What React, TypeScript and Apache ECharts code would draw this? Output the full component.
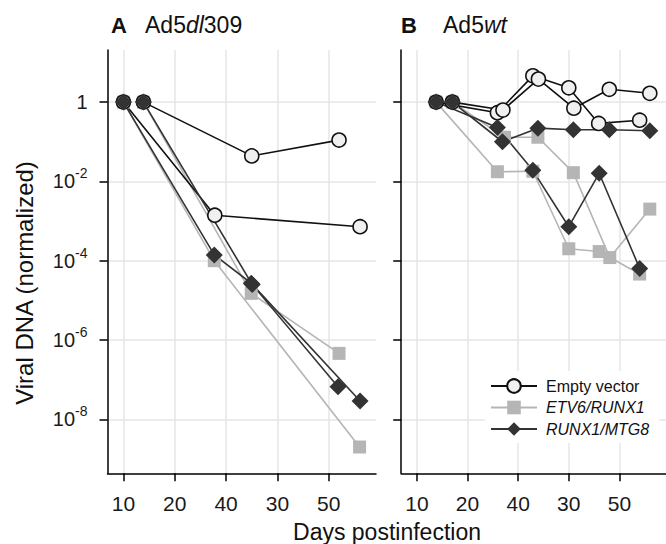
import React, { useEffect, useRef } from "react";
import * as echarts from "echarts";

const FONT = "'Liberation Sans', Arial, Helvetica, sans-serif";

// x positions (linear axis) and the tick labels exactly as printed in the figure
const X_TICKS = [10, 20, 30, 40, 50];
const X_TICK_LABELS = ["10", "20", "40", "30", "50"];
const Y_TICKS = [1, 1e-2, 1e-4, 1e-6, 1e-8];

const SERIES_NAMES = ["Empty vector", "ETV6/RUNX1", "RUNX1/MTG8"];

// Panel A: Ad5dl309
const A_EMPTY_1 = [[10, 1], [27.8, 1.4e-3], [56.1, 7.2e-4]];
const A_EMPTY_2 = [[13.9, 1], [35.0, 0.044], [52.0, 0.11]];
const A_ETV_1 = [[10, 1], [27.7, 1e-4], [56.0, 2e-9]];
const A_ETV_2 = [[13.9, 1], [34.9, 1.5e-5], [52.0, 4.6e-7]];
const A_RUNX_1 = [[10, 1], [27.7, 1.4e-4], [34.9, 2.7e-5], [56.1, 2.9e-8]];
const A_RUNX_2 = [[13.9, 1], [35.1, 2.5e-5], [51.8, 6.6e-8]];

// Panel B: Ad5wt
const B_EMPTY_1 = [[13.8, 1], [25.9, 0.54], [32.9, 4.6], [40.0, 2.3], [45.9, 0.29], [54.0, 0.35]];
const B_EMPTY_2 = [[17.0, 1], [27.0, 0.63], [34.0, 3.8], [41.0, 0.7], [48.0, 2.1], [56.0, 1.67]];
const B_ETV_1 = [[13.8, 1], [25.9, 0.0175], [32.9, 0.018], [40.0, 2e-4], [46.0, 1.7e-4], [54.0, 4.6e-5]];
const B_ETV_2 = [[17.0, 1], [27.3, 0.13], [33.9, 0.13], [40.9, 0.0166], [48.1, 1.2e-4], [56.0, 2e-3]];
const B_RUNX_1 = [[13.8, 1], [25.9, 0.23], [32.9, 0.019], [40.0, 7.2e-4], [46.0, 0.016], [54.0, 6.4e-5]];
const B_RUNX_2 = [[17.0, 1], [26.9, 0.1], [33.9, 0.22], [40.9, 0.2], [48.0, 0.2], [56.0, 0.19]];

const STYLE: Record<string, any> = {
  "Empty vector": {
    symbol: "circle",
    symbolSize: 14,
    lineStyle: { color: "#111", width: 1.6 },
    itemStyle: { color: "#f0f0f0", borderColor: "#111", borderWidth: 1.6 },
  },
  "ETV6/RUNX1": {
    symbol: "rect",
    symbolSize: 13,
    lineStyle: { color: "#b5b5b5", width: 1.6 },
    itemStyle: { color: "#b5b5b5" },
  },
  "RUNX1/MTG8": {
    symbol: "diamond",
    symbolSize: 17,
    lineStyle: { color: "#333", width: 1.6 },
    itemStyle: { color: "#333" },
  },
};

const PANELS = [
  {
    series: [
      ["ETV6/RUNX1", A_ETV_1],
      ["ETV6/RUNX1", A_ETV_2],
      ["Empty vector", A_EMPTY_1],
      ["Empty vector", A_EMPTY_2],
      ["RUNX1/MTG8", A_RUNX_1],
      ["RUNX1/MTG8", A_RUNX_2],
    ],
  },
  {
    series: [
      ["ETV6/RUNX1", B_ETV_1],
      ["ETV6/RUNX1", B_ETV_2],
      ["Empty vector", B_EMPTY_1],
      ["Empty vector", B_EMPTY_2],
      ["RUNX1/MTG8", B_RUNX_1],
      ["RUNX1/MTG8", B_RUNX_2],
    ],
  },
];

const X_MIN = 6.9;
const X_MAX = 59.2;
const Y_MIN = Math.pow(10, -9.362);
const Y_MAX = Math.pow(10, 1.314);

function yLabel(v: number) {
  const e = Math.round(Math.log10(v));
  if (e === 0) return "{b|1}";
  return "{b|10}{s|" + e + "}";
}

export default function App() {
  const ref = useRef<HTMLDivElement>(null);
  useEffect(() => {
    if (!ref.current) return;
    const chart = echarts.init(ref.current, undefined, { renderer: "svg" });
    const grids = [
      { left: 107.5, top: 50, width: 268.5, height: 423.3 },
      { left: 401.2, top: 50, width: 268.5, height: 423.3 },
    ];
    const xAxis = grids.map((_, i) => ({
      type: "value",
      gridIndex: i,
      min: X_MIN,
      max: X_MAX,
      axisLine: { show: true, lineStyle: { color: "#000", width: 1.5 } },
      axisTick: { show: true, customValues: X_TICKS, length: 8, lineStyle: { color: "#000", width: 1.5 } },
      axisLabel: {
        customValues: X_TICKS,
        formatter: (v: number) => X_TICK_LABELS[X_TICKS.indexOf(v)],
        fontSize: 21,
        color: "#1a1a1a",
        fontFamily: FONT,
        margin: 20,
      },
      splitLine: { show: true, lineStyle: { color: "#e6e6e6", width: 1.5 } },
    }));
    const yAxis = grids.map((_, i) => ({
      type: "log",
      logBase: 10,
      gridIndex: i,
      min: Y_MIN,
      max: Y_MAX,
      axisLine: { show: true, lineStyle: { color: "#000", width: 1.5 } },
      axisTick: { show: true, customValues: Y_TICKS, length: 8, lineStyle: { color: "#000", width: 1.5 } },
      axisLabel: {
        show: i === 0,
        customValues: Y_TICKS,
        formatter: yLabel,
        margin: 20,
        color: "#1a1a1a",
        fontFamily: FONT,
        rich: {
          b: { fontSize: 20, lineHeight: 30, fontFamily: FONT, color: "#1a1a1a" },
          s: { fontSize: 14, lineHeight: 14, verticalAlign: "top", fontFamily: FONT, color: "#1a1a1a" },
        },
      },
      splitLine: { show: true, lineStyle: { color: "#e6e6e6", width: 1.5 } },
    }));
    const series: any[] = [];
    PANELS.forEach((p, i) => {
      p.series.forEach(([name, data]: any) => {
        series.push({
          type: "line",
          name,
          xAxisIndex: i,
          yAxisIndex: i,
          data,
          silent: true,
          ...STYLE[name],
        });
      });
    });
    const titleStyle = { fill: "#111", fontFamily: FONT, verticalAlign: "middle" };
    chart.setOption({
      animation: false,
      backgroundColor: "#fff",
      grid: grids,
      xAxis,
      yAxis,
      series,
      legend: {
        orient: "vertical",
        left: 485,
        top: 371,
        padding: [7, 10, 6, 5],
        itemWidth: 46,
        itemHeight: 17,
        itemGap: 5.5,
        backgroundColor: "#fff",
        selectedMode: false,
        textStyle: { fontSize: 16, color: "#111", fontFamily: FONT, padding: [0, 0, 0, 4] },
        data: [
          { name: SERIES_NAMES[0] },
          { name: SERIES_NAMES[1], textStyle: { fontStyle: "italic" } },
          { name: SERIES_NAMES[2], textStyle: { fontStyle: "italic" } },
        ],
      },
      graphic: [
        { type: "text", x: 111, y: 25, style: { ...titleStyle, text: "A", fontSize: 22, fontWeight: "bold" } },
        {
          type: "text",
          x: 145,
          y: 25,
          style: { ...titleStyle, text: "Ad5{i|dl}309", fontSize: 23, rich: { i: { fontStyle: "italic", fontSize: 23, fontFamily: FONT, fill: "#111" } } },
        },
        { type: "text", x: 401, y: 25, style: { ...titleStyle, text: "B", fontSize: 22, fontWeight: "bold" } },
        {
          type: "text",
          x: 443,
          y: 25,
          style: { ...titleStyle, text: "Ad5{i|wt}", fontSize: 23, rich: { i: { fontStyle: "italic", fontSize: 23, fontFamily: FONT, fill: "#111" } } },
        },
        {
          type: "text",
          x: 24,
          y: 283,
          rotation: Math.PI / 2,
          style: { ...titleStyle, text: "Viral DNA (normalized)", fontSize: 24, align: "center" },
        },
        {
          type: "text",
          x: 387,
          y: 543,
          style: { ...titleStyle, text: "Days postinfection", fontSize: 23, align: "center", verticalAlign: "bottom" },
        },
      ],
    });
    return () => chart.dispose();
  }, []);
  return <div ref={ref} style={{ position: "absolute", left: 0, top: 0, width: 666, height: 544 }} />;
}
